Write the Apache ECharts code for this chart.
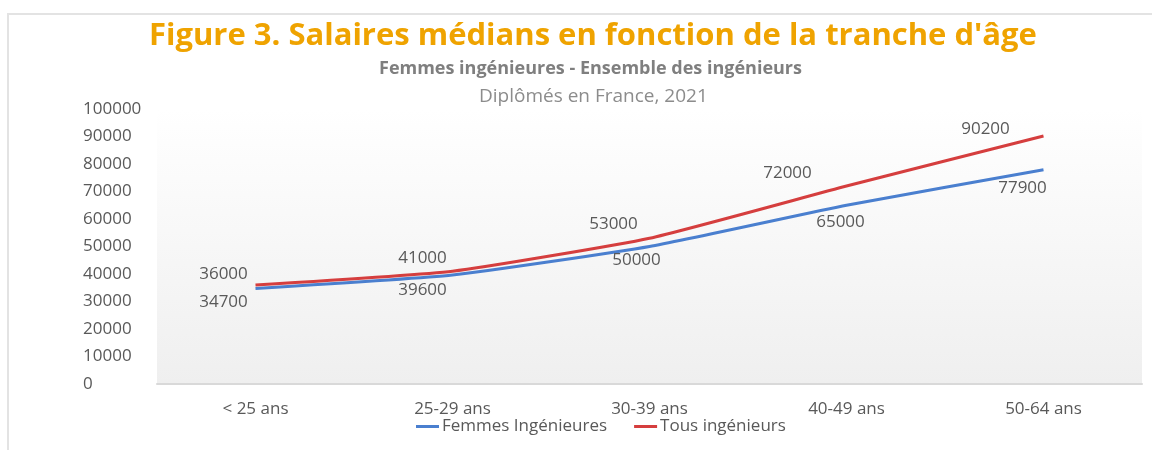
<!DOCTYPE html>
<html>
<head>
<meta charset="utf-8">
<script src="https://cdn.jsdelivr.net/npm/echarts@6/dist/echarts.min.js"></script>
<style>
html,body{margin:0;padding:0;background:#fff;}
#chart{width:1152px;height:450px;}
</style>
</head>
<body>
<div id="chart"></div>
<script>
const categories = ['< 25 ans', '25-29 ans', '30-39 ans', '40-49 ans', '50-64 ans'];
const femmes = [34700, 39600, 50000, 65000, 77900];
const tous = [36000, 41000, 53000, 72000, 90200];
const seriesNames = ['Femmes Ingénieures', 'Tous ingénieurs'];
const yTicks = { min: 0, max: 100000, interval: 10000 };

// label placement (style only)
const femmesLabelOffsets = [[-32, 14], [-30, 15], [-13, 14], [-6, 17], [-21, 18]];
const tousLabelOffsets = [[-32, -11], [-30, -13], [-36, -14], [-59, -13], [-58, -7]];

const FONT = '"Open Sans", sans-serif';
const GREY = '#595959';

function withLabels(values, offsets) {
  return values.map((v, i) => ({ value: v, label: { offset: offsets[i] } }));
}

const chart = echarts.init(document.getElementById('chart'), null, { renderer: 'canvas' });
chart.setOption({
  backgroundColor: '#ffffff',
  animation: false,
  title: [
    { text: "Figure 3. Salaires médians en fonction de la tranche d'âge", left: 144, top: 16,
      textStyle: { color: '#EFA300', fontSize: 31, fontWeight: 'bold', fontFamily: FONT } },
    { text: 'Femmes ingénieures - Ensemble des ingénieurs', left: 374, top: 55,
      textStyle: { color: '#7f7f7f', fontSize: 18, fontWeight: 'bold', fontFamily: FONT } },
    { text: 'Diplômés en France, 2021', left: 474, top: 82,
      textStyle: { color: '#8c8c8c', fontSize: 19, fontWeight: 'normal', fontFamily: FONT } }
  ],
  graphic: [
    { type: 'polyline', shape: { points: [[8, 460], [8, 14], [1160, 14]] },
      style: { stroke: '#e3e3e3', lineWidth: 2, fill: null }, silent: true }
  ],
  legend: {
    top: 413, left: 411,
    itemWidth: 23, itemHeight: 3, itemGap: 27,
    icon: 'rect',
    textStyle: { color: GREY, fontSize: 17, fontFamily: FONT, padding: [0, 0, 0, -2] },
    data: seriesNames
  },
  grid: {
    left: 157, right: 10, top: 109, bottom: 66,
    show: true, borderWidth: 0,
    backgroundColor: new echarts.graphic.LinearGradient(0, 0, 0, 1, [
      { offset: 0, color: '#ffffff' }, { offset: 1, color: '#efefef' }
    ])
  },
  xAxis: {
    type: 'category', data: categories, boundaryGap: true,
    axisLine: { show: true, lineStyle: { color: '#d9d9d9', width: 2 } },
    axisTick: { show: false },
    axisLabel: { color: GREY, fontSize: 17, fontFamily: FONT, margin: 17 },
    splitLine: { show: false }
  },
  yAxis: {
    type: 'value', min: yTicks.min, max: yTicks.max, interval: yTicks.interval,
    axisLine: { show: false }, axisTick: { show: false },
    splitLine: { show: false },
    axisLabel: { color: GREY, fontSize: 17, fontFamily: FONT, align: 'left', margin: 74,
      formatter: v => String(v) }
  },
  series: [
    { name: seriesNames[0], type: 'line', data: withLabels(femmes, femmesLabelOffsets),
      smooth: 0.15, symbol: 'circle', symbolSize: 0, showSymbol: true, color: '#4A7FCF',
      lineStyle: { width: 3, color: '#4A7FCF' },
      label: { show: true, position: 'inside', color: GREY, fontSize: 17, fontFamily: FONT } },
    { name: seriesNames[1], type: 'line', data: withLabels(tous, tousLabelOffsets),
      smooth: 0.15, symbol: 'circle', symbolSize: 0, showSymbol: true, color: '#D53E3E',
      lineStyle: { width: 3, color: '#D53E3E' },
      label: { show: true, position: 'inside', color: GREY, fontSize: 17, fontFamily: FONT } }
  ]
});
</script>
</body>
</html>
